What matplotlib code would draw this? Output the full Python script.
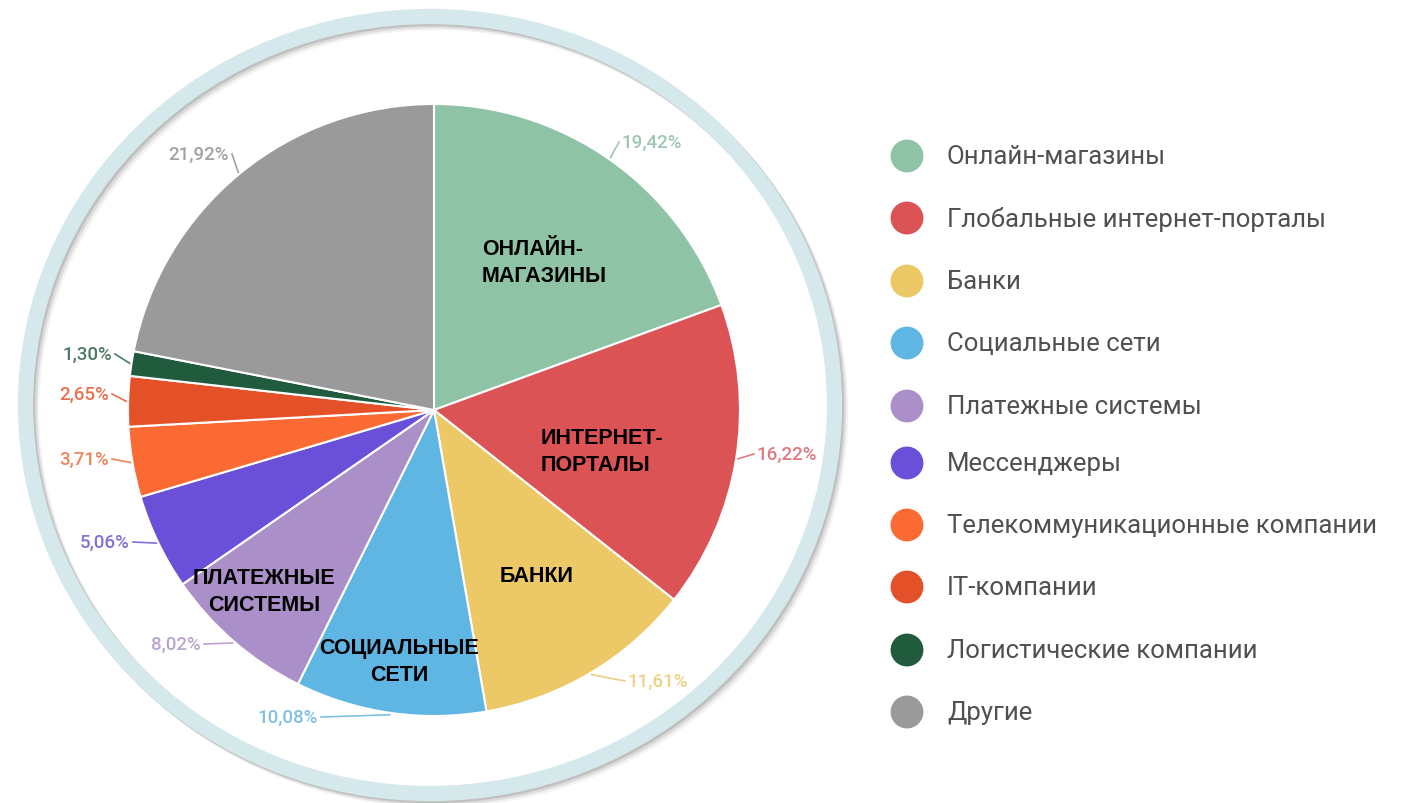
import numpy as np
import matplotlib.pyplot as plt
from matplotlib.patches import Ellipse

categories = ["Онлайн-магазины", "Глобальные интернет-порталы", "Банки",
              "Социальные сети", "Платежные системы", "Мессенджеры",
              "Телекоммуникационные компании", "IT-компании",
              "Логистические компании", "Другие"]
shares = [19.42, 16.22, 11.61, 10.08, 8.02, 5.06, 3.71, 2.65, 1.30, 21.92]
pct_labels = ["19,42%", "16,22%", "11,61%", "10,08%", "8,02%",
              "5,06%", "3,71%", "2,65%", "1,30%", "21,92%"]
inner_labels = ["ОНЛАЙН-\nМАГАЗИНЫ", "ИНТЕРНЕТ-\nПОРТАЛЫ", "БАНКИ",
                "СОЦИАЛЬНЫЕ\nСЕТИ", "ПЛАТЕЖНЫЕ\nСИСТЕМЫ"]

colors = ["#8ec3a6", "#dc5356", "#ecc966", "#5fb6e3", "#ab8fc8",
          "#6a4fd8", "#fc6a33", "#e45027", "#1f5b3c", "#9a9a9a"]
label_colors = ["#9ec7b0", "#e07a82", "#eed184", "#80bfe3", "#b8a6d0",
                "#8070d8", "#f0825a", "#e8704e", "#4b7a62", "#a2a2a2"]

W, H = 1413, 804
fig = plt.figure(figsize=(W / 100, H / 100), dpi=100)
ax = fig.add_axes([0, 0, 1, 1])

# pixel layout (y measured from top in the picture)
cx, cy, R = 434, H - 411, 306

# outer ring with soft shadow
for off, a in [(6, 0.10), (4, 0.18), (2, 0.25)]:
    ax.add_patch(Ellipse((430 + off, H - 406 - off), 809, 777, fill=False,
                         lw=11, ec="#000000", alpha=a * 0.5, zorder=0))
ax.add_patch(Ellipse((430, H - 406), 809, 777, fill=False, lw=11,
                     ec="#d5e8ec", zorder=1))

wedges, _ = ax.pie(shares, colors=colors, startangle=90, counterclock=False,
                   center=(cx, cy), radius=R,
                   wedgeprops=dict(edgecolor="white", linewidth=1.5))
for w in wedges:
    w.set_zorder(2)

# percentage labels: text anchor (px from top-left), alignment
pct_pos = [(622, 143, "left"), (757, 455, "left"), (628, 682, "left"),
           (318, 718, "right"), (201, 645, "right"), (130, 543, "right"),
           (109, 460, "right"), (109, 395, "right"), (112, 355, "right"),
           (229, 155, "right")]
cum = np.cumsum([0] + shares[:-1])
for i, (s, c0) in enumerate(zip(shares, cum)):
    ang = np.deg2rad(90 - 360 * (c0 + s / 2) / sum(shares))
    ex, ey = cx + (R + 2) * np.cos(ang), cy + (R + 2) * np.sin(ang)
    tx, ty, ha = pct_pos[i]
    ty = H - ty
    lx = tx - 3 if ha == "left" else tx + 3
    ax.plot([ex, lx], [ey, ty], color=label_colors[i], lw=1.2, zorder=3)
    ax.text(tx, ty, pct_labels[i], color=label_colors[i], fontsize=13.5,
            family="Roboto", fontweight="medium", ha=ha, va="center", zorder=4)

# labels inside slices
inner_pos = [(482, 263, "left"), (541, 452, "left"), (537, 577, "center"),
             (399, 662, "center"), (264, 592, "center")]
for (x, y, al), txt in zip(inner_pos, inner_labels):
    ax.text(x, H - y, txt, fontsize=15.5, fontweight="bold",
            family="Liberation Sans", ha=al, multialignment=al,
            va="center", linespacing=1.4, zorder=5)

# legend
leg_y = [157, 219, 282, 344, 407, 464, 526, 588, 651, 713]
for name, col, y in zip(categories, colors, leg_y):
    ax.scatter([907], [H - y], s=560, color=col, edgecolors="none", zorder=5)
    ax.text(947, H - y, name, fontsize=18.5, family="Roboto", color="#505050",
            ha="left", va="center", zorder=5)

ax.set_xlim(0, W)
ax.set_ylim(0, H)
ax.set_aspect("equal")
ax.axis("off")
fig.savefig("out.png", dpi=100, facecolor="white")
